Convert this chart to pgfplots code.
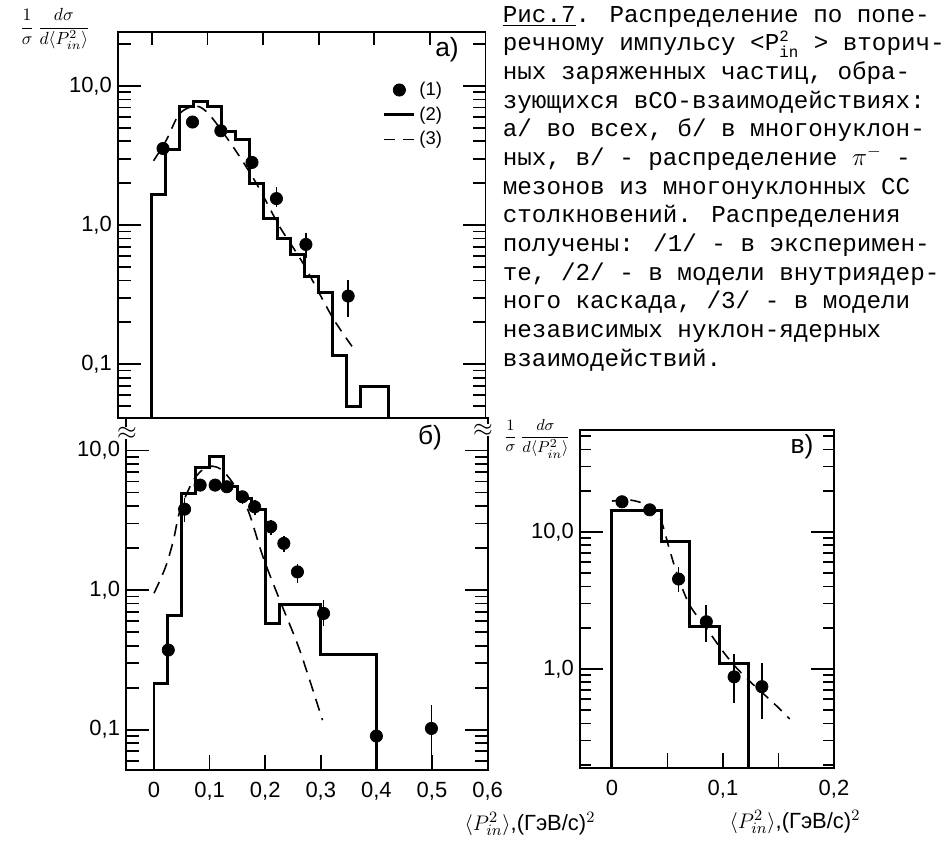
\documentclass[border=0pt]{standalone}
\usepackage{fontspec}
\setmainfont{Liberation Sans}
\newfontfamily\capfont{Liberation Mono}
\usepackage{pgfplots}
\pgfplotsset{compat=1.18}

\pgfplotsset{
  histo/.style={black, line width=1.7pt, const plot mark left, mark=none},
  model/.style={black, line width=0.9pt, dash pattern=on 6pt off 4.5pt, smooth, mark=none},
  expt/.style={black, only marks, mark=*, mark size=3.5pt,
    error bars/y dir=both, error bars/y explicit, error bars/error mark=none,
    error bars/error bar style={line width=1pt}},
}

\begin{document}
\begin{tikzpicture}
\path[use as bounding box] (0,0) rectangle (18.94,16.98);

% a) all interactions
\begin{axis}[ymode=log, scale only axis, anchor=south west,
  at={(2.36cm,8.62cm)}, width=7.35cm, height=7.72cm,
  major tick length=0.27cm, minor tick length=0.25cm,
  tick style={black, line width=1pt}, tick align=inside,
  axis line style={line width=1.1pt},
  yticklabel style={font=\fontsize{12.5}{14}\selectfont},
  xmin=-0.061, xmax=0.6, ymin=0.0411, ymax=24.4,
  xtick={0,0.1,0.2,0.3,0.4,0.5}, xticklabels=\empty, xtick pos=right,
  ytick={0.1,1,10}, yticklabels={{0,1},{1,0},{10,0}},
  extra y ticks={0.1,1,10}, extra y tick labels={},
  extra y tick style={major tick length=0.46cm},
  minor ytick={0.05,0.06,0.07,0.08,0.09,0.2,0.3,0.4,0.5,0.6,0.7,0.8,0.9,2,3,4,5,6,7,8,9,20},
  legend style={draw=none, fill=none, at={(0.715,0.885)}, anchor=north west,
    font=\fontsize{10.5}{11}\selectfont, row sep=1pt, inner sep=1pt},
  legend cell align=left,
]
\addplot[expt] coordinates {
  (0.020,3.55) +- (0,0.3)
  (0.073,5.50) +- (0,0.3)
  (0.124,4.76) +- (0,0.3)
  (0.180,2.82) +- (0,0.3)
  (0.224,1.55) += (0,0.33) -= (0,0.2)
  (0.277,0.726) += (0,0.145) -= (0,0.15)
  (0.353,0.309) += (0,0.094) -= (0,0.089)
};
\addlegendentry{(1)}
\addplot[histo] coordinates {
  (0,0.01) (0,1.65) (0.025,3.5) (0.05,7.1) (0.075,7.7) (0.1,7.1) (0.125,4.7)
  (0.15,4.1) (0.175,2.0) (0.2,1.12) (0.225,0.80) (0.25,0.61) (0.275,0.425)
  (0.3,0.33) (0.325,0.116) (0.35,0.05) (0.375,0.069) (0.425,0.069) (0.425,0.01)
};
\addlegendentry{(2)}
\addplot[model] coordinates {
  (0.003,2.9) (0.026,4.08) (0.05,6.34) (0.08,7.16) (0.104,6.17) (0.146,3.65)
  (0.188,1.99) (0.23,0.97) (0.272,0.53) (0.326,0.213) (0.367,0.123)
};
\addlegendentry{(3)}
\end{axis}

% b) many-nucleon collisions
\begin{axis}[ymode=log, scale only axis, anchor=south west,
  at={(2.524cm,1.58cm)}, width=7.228cm, height=7.04cm,
  major tick length=0.3cm, minor tick length=0.25cm,
  tick style={black, line width=1pt}, tick align=inside,
  axis line style={line width=1.1pt},
  ticklabel style={font=\fontsize{12.5}{14}\selectfont},
  xticklabel style={yshift=-0.12cm},
  xmin=-0.05, xmax=0.6, ymin=0.0514, ymax=17.1,
  xtick={0,0.1,0.2,0.3,0.4,0.5,0.6},
  xticklabels={0,{0,1},{0,2},{0,3},{0,4},{0,5},{0,6}},
  xtick pos=left,
  ytick={0.1,1,10}, yticklabels={{0,1},{1,0},{10,0}},
  extra y ticks={0.1,1,10}, extra y tick labels={},
  extra y tick style={major tick length=0.46cm},
  minor ytick={0.06,0.07,0.08,0.09,0.2,0.3,0.4,0.5,0.6,0.7,0.8,0.9,2,3,4,5,6,7,8,9},
]
\addplot[expt] coordinates {
  (0.0257,0.372) += (0,0.145) -= (0,0.09)
  (0.055,3.8) += (0,0.8) -= (0,0.7)
  (0.083,5.65) +- (0,0.5)
  (0.110,5.65) +- (0,0.5)
  (0.131,5.5) +- (0,0.5)
  (0.159,4.66) +- (0,0.5)
  (0.181,3.95) +- (0,0.5)
  (0.210,2.84) +- (0,0.35)
  (0.2335,2.16) +- (0,0.3)
  (0.258,1.35) += (0,0.2) -= (0,0.23)
  (0.305,0.68) += (0,0.17) -= (0,0.13)
  (0.400,0.090) += (0,0.048) -= (0,0.05)
  (0.499,0.102) += (0,0.048) -= (0,0.039)
};
\addplot[histo] coordinates {
  (0,0.01) (0,0.215) (0.025,0.66) (0.05,4.9) (0.075,7.6) (0.1,9.0) (0.125,5.5)
  (0.15,4.5) (0.175,3.75) (0.2,0.58) (0.225,0.79) (0.3,0.343) (0.4,0.343) (0.4,0.01)
};
\addplot[model, dash pattern=on 7pt off 4.5pt] coordinates {
  (0,0.95) (0.011,1.18) (0.023,1.55) (0.035,2.28) (0.047,3.74) (0.071,6.13)
  (0.095,7.64) (0.119,7.4) (0.1425,5.8) (0.169,3.74) (0.196,1.73) (0.226,0.85)
  (0.262,0.372) (0.303,0.117)
};
\end{axis}

% c) pi- mesons
\begin{axis}[ymode=log, scale only axis, anchor=south west,
  at={(11.6cm,1.62cm)}, width=5.08cm, height=6.76cm,
  major tick length=0.3cm, minor tick length=0.22cm,
  tick style={black, line width=1pt}, tick align=inside,
  axis line style={line width=1.1pt},
  ticklabel style={font=\fontsize{12.5}{14}\selectfont},
  xticklabel style={yshift=-0.12cm},
  xmin=-0.0288, xmax=0.2, ymin=0.189, ymax=55.5,
  xtick={0,0.05,0.1,0.15,0.2}, xticklabels={0,,{0,1},,{0,2}},
  xtick pos=left,
  ytick={1,10}, yticklabels={{1,0},{10,0}},
  extra y ticks={1,10}, extra y tick labels={},
  extra y tick style={major tick length=0.46cm},
  minor ytick={0.2,0.3,0.4,0.5,0.6,0.7,0.8,0.9,2,3,4,5,6,7,8,9,20,30,40,50},
]
\addplot[expt] coordinates {
  (0.009,16.6) +- (0,1)
  (0.034,14.5) +- (0,1)
  (0.060,4.53) += (0,1.0) -= (0,0.9)
  (0.085,2.21) += (0,0.7) -= (0,0.63)
  (0.110,0.875) += (0,0.4) -= (0,0.31)
  (0.135,0.742) += (0,0.36) -= (0,0.31)
};
\addplot[histo] coordinates {
  (0,0.05) (0,14.3) (0.045,8.57) (0.07,2.05) (0.097,1.10) (0.123,1.10) (0.123,0.05)
};
\addplot[model] coordinates {
  (0,16.8) (0.0164,17.1) (0.0313,15.7) (0.0433,12.6) (0.0522,7.25) (0.0597,4.65)
  (0.0701,2.91) (0.0851,1.98) (0.1,1.34) (0.112,1.02) (0.127,0.771) (0.145,0.569)
  (0.16,0.431)
};
\end{axis}

% panel letters, axis labels, breaks
\node[font=\fontsize{15}{16}\selectfont] at (8.94,15.98) {а)};
\node[font=\fontsize{15}{16}\selectfont] at (8.6,8.22) {б)};
\node[font=\fontsize{15}{16}\selectfont] at (16.04,8.04) {в)};
\node[font=\fontsize{10}{11}\selectfont] at (1.1,16.4)
  {$\displaystyle\frac{1}{\sigma}\,\frac{d\sigma}{d\langle P^2_{in}\rangle}$};
\node[font=\fontsize{9.5}{10}\selectfont] at (10.74,8.2)
  {$\displaystyle\frac{1}{\sigma}\,\frac{d\sigma}{d\langle P^2_{in}\rangle}$};
\node[fill=white, inner sep=0pt, font=\Large] at (2.54,8.32) {$\approx$};
\node[fill=white, inner sep=0pt, font=\Large] at (9.66,8.38) {$\approx$};
\node[font=\fontsize{12.5}{14}\selectfont] at (10.6,0.5)
  {$\langle P^{2}_{in}\rangle$,(ГэВ/с)$^2$};
\node[font=\fontsize{12.5}{14}\selectfont] at (15.9,0.54)
  {$\langle P^{2}_{in}\rangle$,(ГэВ/с)$^2$};

% caption
\node[anchor=north west, inner sep=0pt, align=left,
  font=\capfont\fontsize{13.8}{16.3}\selectfont] at (10.05,16.86) {%
\underline{Рис.7}. Распределение по попе-\\
речному импульсу <P$^{\mbox{\fontsize{9}{9}\selectfont 2}}_{\mbox{\fontsize{9}{9}\selectfont in}}$ > вторич-\\
ных заряженных частиц, обра-\\
зующихся вСО-взаимодействиях:\\
а/ во всех, б/ в многонуклон-\\
ных, в/ - распределение $\pi^-$ -\\
мезонов из многонуклонных СС\\
столкновений. Распределения\\
получены: /1/ - в эксперимен-\\
те, /2/ - в модели внутриядер-\\
ного каскада, /3/ - в модели\\
независимых нуклон-ядерных\\
взаимодействий.};
\end{tikzpicture}
\end{document}
